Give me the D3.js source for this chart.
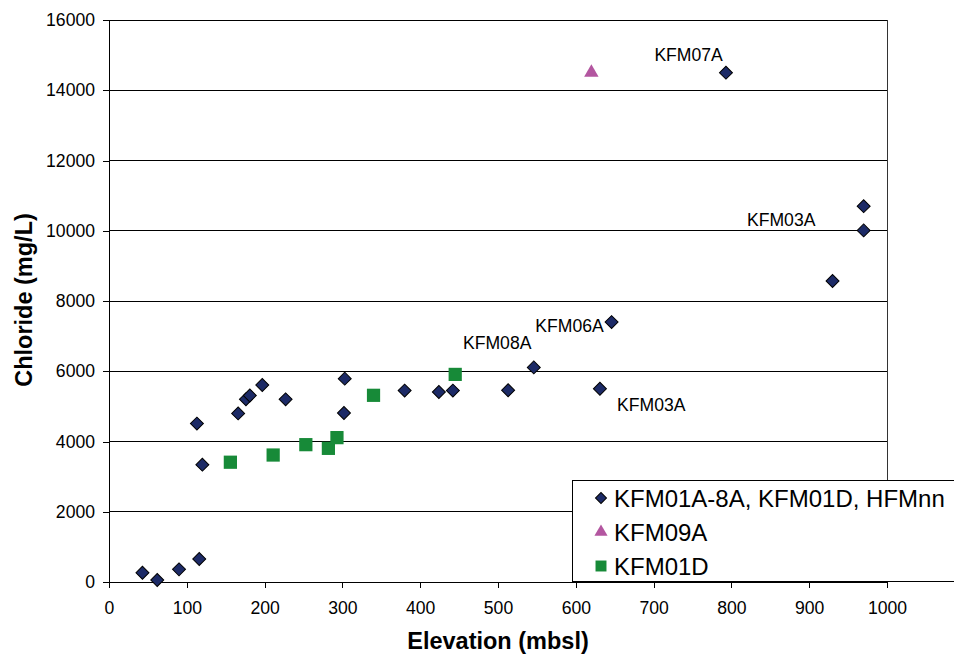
<!DOCTYPE html>
<html>
<head>
<meta charset="utf-8">
<script src="https://cdn.jsdelivr.net/npm/d3@7"></script>
<style>
  body { margin: 0; background: #fff; }
  text { font-family: "Liberation Sans", Arial, sans-serif; }
</style>
</head>
<body>
<script>
const width = 954;
const height = 655;
const margin = { top: 20, right: 67, bottom: 73, left: 109 };

// KFM01A-8A, KFM01D, HFMnn
const mainElev = [43, 62, 90, 116, 113, 120, 166, 176, 181, 197, 227, 303, 302, 380, 424, 442, 513, 546, 631, 646, 930, 970, 970, 793];
const mainCl = [265, 57, 360, 655, 4510, 3340, 4800, 5200, 5310, 5610, 5200, 5790, 4810, 5450, 5410, 5450, 5460, 6110, 5500, 7400, 8570, 10700, 10010, 14500];

// KFM09A
const k09Elev = [620];
const k09Cl = [14500];

// KFM01D
const k01dElev = [156, 211, 253, 282, 293, 340, 445];
const k01dCl = [3410, 3615, 3910, 3805, 4110, 5315, 5910];

const seriesNames = ['KFM01A-8A, KFM01D, HFMnn', 'KFM09A', 'KFM01D'];

const labelNames = ['KFM07A', 'KFM03A', 'KFM06A', 'KFM08A', 'KFM03A'];
const labelElev = [745, 864, 592, 499, 697];
const labelCl = [14830, 10135, 7126, 6642, 4868];

const xTicks = [0, 100, 200, 300, 400, 500, 600, 700, 800, 900, 1000];
const yTicks = [0, 2000, 4000, 6000, 8000, 10000, 12000, 14000, 16000];

const plotW = width - margin.left - margin.right;
const plotH = height - margin.top - margin.bottom;

const svg = d3.select('body')
  .append('svg')
    .attr('width', width)
    .attr('height', height);

const g = svg.append('g')
    .attr('transform', `translate(${margin.left},${margin.top})`);

const x = d3.scaleLinear().domain([0, 1000]).range([0, plotW]);
const y = d3.scaleLinear().domain([0, 16000]).range([plotH, 0]);

// grid
g.append('g')
  .selectAll('line')
  .data(yTicks.slice(1))
  .enter()
    .append('line')
    .attr('x1', 0)
    .attr('x2', plotW)
    .attr('y1', d => y(d))
    .attr('y2', d => y(d))
    .attr('stroke', '#000')
    .attr('stroke-width', 1)
    .attr('shape-rendering', 'crispEdges');

g.append('line')
  .attr('x1', plotW).attr('x2', plotW)
  .attr('y1', 0).attr('y2', plotH)
  .attr('stroke', '#333')
  .attr('shape-rendering', 'crispEdges');

const yAxis = d3.axisLeft(y)
  .tickValues(yTicks)
  .tickFormat(d3.format('d'))
  .tickSizeInner(6)
  .tickSizeOuter(0)
  .tickPadding(8);

const xAxis = d3.axisBottom(x)
  .tickValues(xTicks)
  .tickFormat(d3.format('d'))
  .tickSizeInner(6)
  .tickSizeOuter(0)
  .tickPadding(14);

const axes = g.append('g');

axes.append('g')
    .attr('transform', `translate(0,${plotH})`)
    .call(xAxis);

axes.append('g')
    .call(yAxis);

axes.selectAll('.domain, .tick line')
    .attr('stroke', '#000')
    .attr('shape-rendering', 'crispEdges');

axes.selectAll('.tick text')
    .attr('fill', '#000')
    .style('font-size', '17.6px')
    .style('font-family', '"Liberation Sans", Arial, sans-serif');

// axis titles
svg.append('text')
    .attr('x', 498)
    .attr('y', 649)
    .attr('text-anchor', 'middle')
    .style('font-size', '23.5px')
    .style('font-weight', 'bold')
    .text('Elevation (mbsl)');

svg.append('text')
    .attr('transform', 'translate(32,300) rotate(-90)')
    .attr('text-anchor', 'middle')
    .style('font-size', '23.5px')
    .style('font-weight', 'bold')
    .text('Chloride (mg/L)');

// markers
const diamond = d3.symbol(d3.symbolSquare, 84);
const triangle = d3.symbol(d3.symbolTriangle, 90);
const square = d3.symbol(d3.symbolSquare, 175);

const pts = g.append('g');

pts.selectAll('.k01d')
  .data(d3.zip(k01dElev, k01dCl))
  .enter()
    .append('path')
    .attr('d', square)
    .attr('transform', d => `translate(${x(d[0])},${y(d[1])})`)
    .attr('fill', '#178a38');

pts.selectAll('.k09')
  .data(d3.zip(k09Elev, k09Cl))
  .enter()
    .append('path')
    .attr('d', triangle)
    .attr('transform', d => `translate(${x(d[0])},${y(d[1])})`)
    .attr('fill', '#b356a0');

pts.selectAll('.main')
  .data(d3.zip(mainElev, mainCl))
  .enter()
    .append('path')
    .attr('d', diamond)
    .attr('transform', d => `translate(${x(d[0])},${y(d[1])}) rotate(45)`)
    .attr('fill', '#1c2a66')
    .attr('stroke', '#000')
    .attr('stroke-width', 1);

// point labels
g.append('g')
  .selectAll('text')
  .data(d3.zip(labelNames, labelElev, labelCl))
  .enter()
    .append('text')
    .attr('x', d => x(d[1]))
    .attr('y', d => y(d[2]))
    .attr('text-anchor', 'middle')
    .style('font-size', '17.6px')
    .text(d => d[0]);

// legend
const legend = svg.append('g')
    .attr('transform', 'translate(572,480)');

legend.append('rect')
    .attr('x', 0.5)
    .attr('y', 0.5)
    .attr('width', 420)
    .attr('height', 101)
    .attr('fill', '#fff')
    .attr('stroke', '#000');

const legendShapes = [
  { path: d3.symbol(d3.symbolSquare, 60)(), rot: 45, fill: '#1c2a66', stroke: '#000' },
  { path: d3.symbol(d3.symbolTriangle, 75)(), rot: 0, fill: '#b356a0', stroke: 'none' },
  { path: d3.symbol(d3.symbolSquare, 120)(), rot: 0, fill: '#178a38', stroke: 'none' },
];

const rows = legend.selectAll('.row')
  .data(seriesNames)
  .enter()
    .append('g')
    .attr('transform', (d, i) => `translate(0,${18 + i * 34})`);

rows.append('path')
    .attr('d', (d, i) => legendShapes[i].path)
    .attr('transform', (d, i) => `translate(29,0) rotate(${legendShapes[i].rot})`)
    .attr('fill', (d, i) => legendShapes[i].fill)
    .attr('stroke', (d, i) => legendShapes[i].stroke);

rows.append('text')
    .attr('x', 42)
    .attr('dy', '0.36em')
    .style('font-size', '24px')
    .text(d => d);
</script>
</body>
</html>
